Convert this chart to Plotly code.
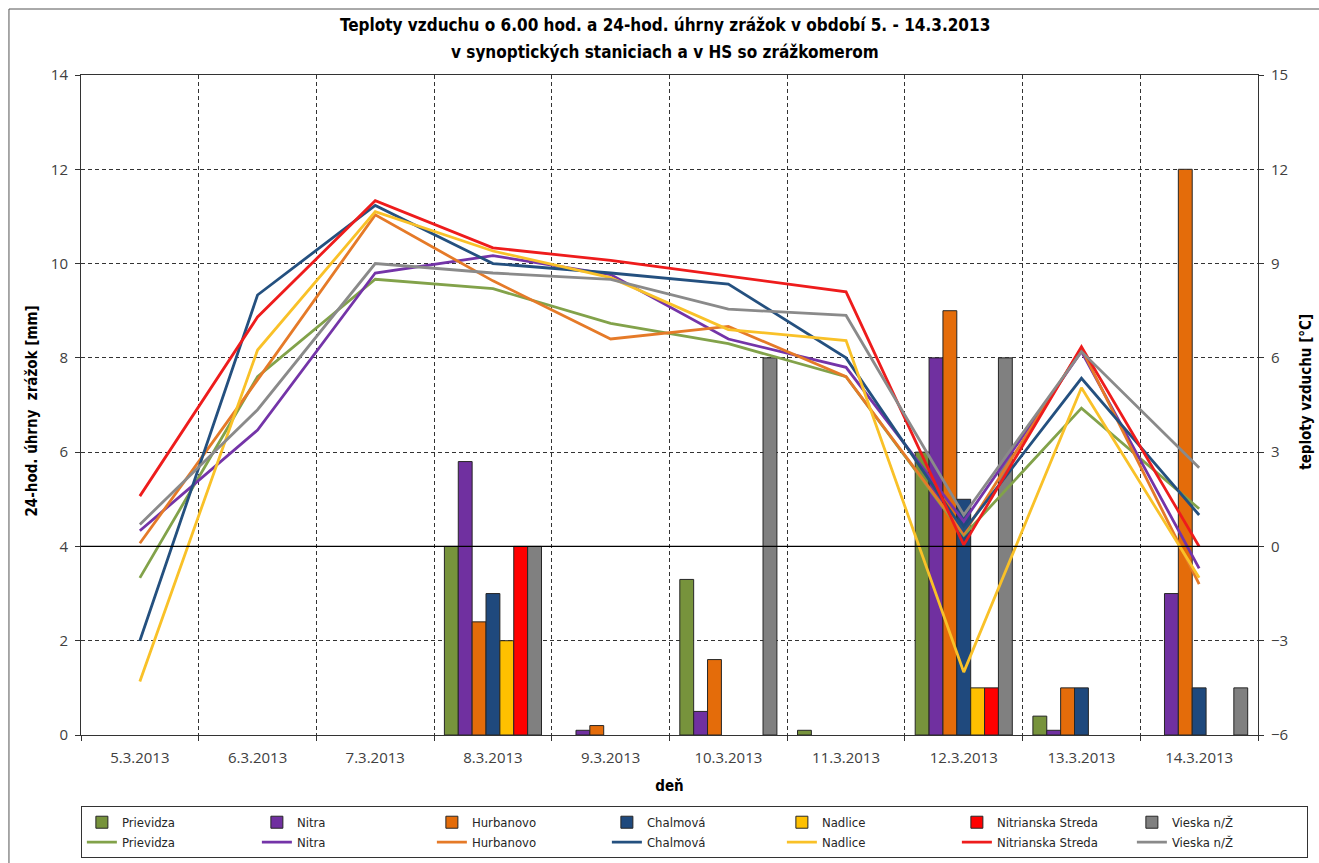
import plotly.graph_objects as go

# Days of the observation period
days = ["5.3.2013", "6.3.2013", "7.3.2013", "8.3.2013", "9.3.2013",
        "10.3.2013", "11.3.2013", "12.3.2013", "13.3.2013", "14.3.2013"]

stations = ["Prievidza", "Nitra", "Hurbanovo", "Chalmová", "Nadlice",
            "Nitrianska Streda", "Vieska n/Ž"]

# 24-hour precipitation totals [mm] (None = no precipitation)
rain_prievidza = [None, None, None, 4.0, None, 3.3, 0.1, 6.0, 0.4, None]
rain_nitra = [None, None, None, 5.8, 0.1, 0.5, None, 8.0, 0.1, 3.0]
rain_hurbanovo = [None, None, None, 2.4, 0.2, 1.6, None, 9.0, 1.0, 12.0]
rain_chalmova = [None, None, None, 3.0, None, None, None, 5.0, 1.0, 1.0]
rain_nadlice = [None, None, None, 2.0, None, None, None, 1.0, None, None]
rain_nitr_streda = [None, None, None, 4.0, None, None, None, 1.0, None, None]
rain_vieska = [None, None, None, 4.0, None, 8.0, None, 8.0, None, 1.0]

# Air temperature at 6:00 [°C]
temp_prievidza = [-1.0, 5.4, 8.5, 8.2, 7.1, 6.45, 5.4, 0.35, 4.4, 1.2]
temp_nitra = [0.5, 3.7, 8.7, 9.25, 8.65, 6.6, 5.7, 0.8, 6.2, -0.7]
temp_hurbanovo = [0.1, 5.3, 10.55, 8.45, 6.6, 7.0, 5.4, 0.4, 6.3, -1.2]
temp_chalmova = [-3.0, 8.0, 10.85, 9.0, 8.7, 8.35, 6.0, 0.5, 5.35, 1.0]
temp_nadlice = [-4.3, 6.25, 10.65, 9.4, 8.55, 6.9, 6.55, -4.0, 5.05, -1.0]
temp_nitr_streda = [1.6, 7.3, 11.0, 9.5, 9.1, 8.6, 8.1, 0.05, 6.35, 0.0]
temp_vieska = [0.7, 4.35, 9.0, 8.7, 8.5, 7.55, 7.35, 1.0, 6.2, 2.5]

rain = [rain_prievidza, rain_nitra, rain_hurbanovo, rain_chalmova,
        rain_nadlice, rain_nitr_streda, rain_vieska]
temps = [temp_prievidza, temp_nitra, temp_hurbanovo, temp_chalmova,
         temp_nadlice, temp_nitr_streda, temp_vieska]

bar_colors = ["#77933C", "#7030A0", "#E46C0A", "#1F497D", "#FFC000", "#FF0000", "#808080"]
line_colors = ["#82A24A", "#7434A8", "#E57A28", "#24507F", "#F9C128", "#EE1C1C", "#8A8A8A"]

TICK_FONT = dict(family="Open Sans, DejaVu Sans, sans-serif", size=15, color="#404040")
NARROW = "Liberation Sans Narrow, DejaVu Sans Condensed, Arial Narrow, sans-serif"

fig = go.Figure()

for name, vals, col in zip(stations, rain, bar_colors):
    fig.add_trace(go.Bar(
        x=days, y=vals, name=name, yaxis="y",
        marker=dict(color=col, line=dict(color="#262626", width=1)),
    ))

for name, vals, col in zip(stations, temps, line_colors):
    fig.add_trace(go.Scatter(
        x=days, y=vals, name=name, yaxis="y2", mode="lines",
        line=dict(color=col, width=2.8),
    ))

fig.update_layout(
    width=1319, height=863,
    margin=dict(l=81, r=61, t=75, b=128, autoexpand=False),
    paper_bgcolor="white", plot_bgcolor="white",
    barmode="group", bargap=0.175, bargroupgap=0,
    showlegend=True,
    legend=dict(
        orientation="h", x=-0.0001, xanchor="left", y=-0.108, yanchor="top",
        entrywidth=130, bordercolor="#333333", borderwidth=1,
        bgcolor="white", traceorder="normal", tracegroupgap=0,
        font=dict(family=NARROW, size=13, color="#262626"),
    ),
    xaxis=dict(
        type="category", tickson="boundaries", ticks="outside", ticklen=5,
        tickcolor="#333333", showline=True, linecolor="#333333", linewidth=1,
        mirror=True, showgrid=True, gridcolor="#333333", gridwidth=1,
        griddash="4px,3px", tickfont=TICK_FONT, ticklabelstandoff=9,
        title=dict(text="<b>deň</b>", standoff=14,
                   font=dict(family=NARROW, size=15, color="#000000")),
    ),
    yaxis=dict(
        range=[0, 14], dtick=2, ticks="outside", ticklen=5, tickcolor="#333333",
        showline=True, linecolor="#333333", linewidth=1,
        showgrid=True, gridcolor="#333333", gridwidth=1, griddash="4px,3px",
        zeroline=False, tickfont=TICK_FONT, ticklabelstandoff=4,
    ),
    yaxis2=dict(
        range=[-6, 15], dtick=3, overlaying="y", side="right",
        ticks="outside", ticklen=5, tickcolor="#333333",
        showline=True, linecolor="#333333", linewidth=1,
        showgrid=False, zeroline=False, tickfont=TICK_FONT, ticklabelstandoff=4,
    ),
)

# Solid reference line at 0 °C
fig.add_shape(type="line", xref="paper", yref="y2", x0=0, x1=1, y0=0, y1=0,
              line=dict(color="#000000", width=1.2))

# Outer chart frame
fig.add_shape(type="rect", xref="paper", yref="paper",
              x0=-0.0612, x1=1.08, y0=-0.3, y1=1.1,
              line=dict(color="#555555", width=1), layer="below")

fig.add_annotation(
    text="<b>Teploty vzduchu o 6.00 hod. a 24-hod. úhrny zrážok v období 5. - 14.3.2013</b>",
    xref="paper", yref="paper", x=0.4965, y=(735 - 25) / 660,
    showarrow=False, xanchor="center", yanchor="middle",
    font=dict(family=NARROW, size=17, color="#000000"))
fig.add_annotation(
    text="<b>v synoptických staniciach a v HS so zrážkomerom</b>",
    xref="paper", yref="paper", x=0.4965, y=(735 - 52) / 660,
    showarrow=False, xanchor="center", yanchor="middle",
    font=dict(family=NARROW, size=17, color="#000000"))
fig.add_annotation(
    text="<b>24-hod. úhrny  zrážok [mm]</b>",
    xref="paper", yref="paper", x=(32 - 81) / 1177, y=0.49,
    showarrow=False, textangle=-90, xanchor="center", yanchor="middle",
    font=dict(family=NARROW, size=15, color="#000000"))
fig.add_annotation(
    text="<b>teploty vzduchu [°C]</b>",
    xref="paper", yref="paper", x=(1306 - 81) / 1177, y=0.52,
    showarrow=False, textangle=-90, xanchor="center", yanchor="middle",
    font=dict(family=NARROW, size=15, color="#000000"))

fig.write_html("out.html")
